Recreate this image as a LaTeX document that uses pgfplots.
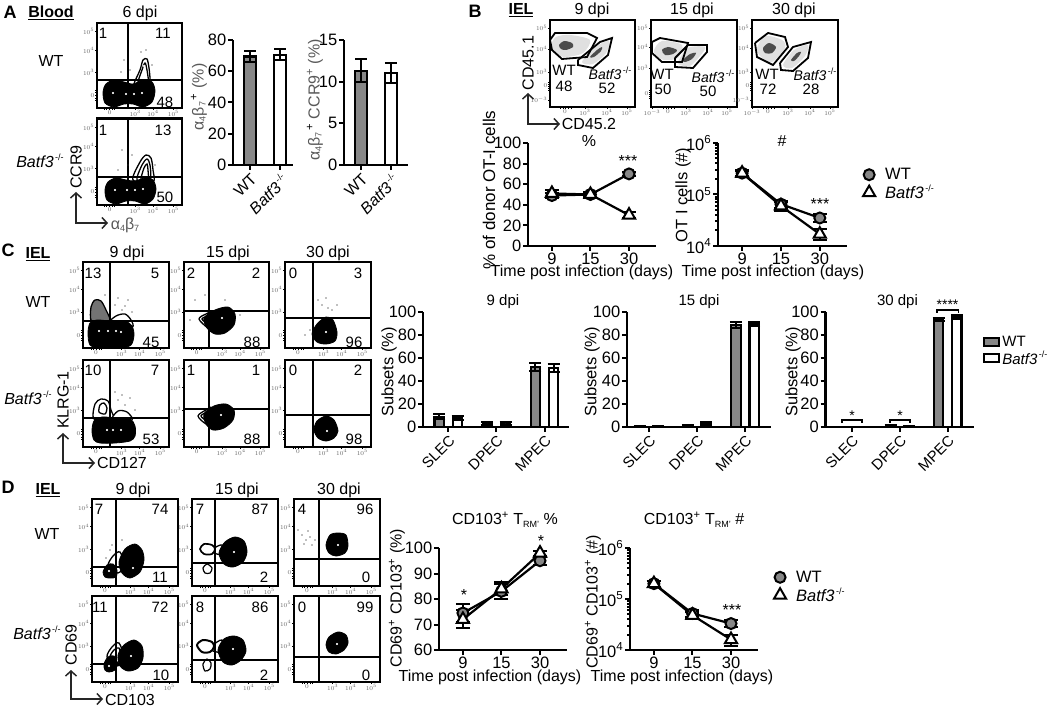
\documentclass[border=0pt]{standalone}
\usepackage{fontspec}
\setmainfont{Liberation Sans}
\usepackage{pgfplots}
\pgfplotsset{compat=1.18}
\usetikzlibrary{arrows.meta}

\newcommand\fs[1]{\fontsize{#1}{#1}\selectfont}
\newcommand\KO{\textit{Batf3}\raisebox{.42em}{\fs{9}\,-/-}}
\newcommand\ab{{\color{black!65}α\raisebox{-2pt}{\fs{9}4}β\raisebox{-2pt}{\fs{9}7}}}

\definecolor{wtgray}{gray}{0.53}

\pgfplotsset{
  % flow cytometry panels: axis units are reference pixels
  flow/.style={x=1pt,y=1pt,y dir=reverse,anchor=north west,axis on top,
    axis line style={line width=2.1pt},
    tick style={black,line width=.7pt},major tick length=2pt,minor tick length=2pt,tick align=outside,
    xtick pos=bottom,ytick pos=left,
    ticklabel style={font=\fs{6},text=black!60,inner sep=.5pt},
    xticklabels={$0$,$10^3$,$10^4$,$10^5$},
    yticklabels={$10^5$,$10^4$,$10^3$,$0$}},
  blob/.style={smooth cycle,fill=black,draw=black,line width=.8pt},
  ring/.style={smooth cycle,fill=white,draw=black,line width=1.3pt},
  gring/.style={smooth cycle,fill=black!55,draw=black,line width=1.3pt},
  dots/.style={only marks,mark=*,mark size=.9pt,white,mark options={draw=none,fill=white}},
  specks/.style={only marks,mark=*,mark size=.3pt,mark options={draw=none,fill=black!25}},
  gate/.style={black,line width=1.9pt},
  gatepoly/.style={sharp plot,draw=black,line width=1.8pt},
  cloud/.style={smooth cycle,draw=none,fill=black!12},
  cloudm/.style={smooth cycle,draw=none,fill=black!70},
  % GraphPad style bar and line panels
  gp/.style={scale only axis,anchor=south west,clip=false,
    axis x line*=bottom,axis y line*=left,
    axis line style={line width=2.2pt},
    tick style={black,line width=2pt},major tick length=5pt,tick align=outside,
    ticklabel style={font=\fs{16.5},inner sep=1.5pt},
    /pgf/number format/assume math mode=true},
  errs/.style={error bars/y dir=both,error bars/y explicit,
    error bars/error bar style={line width=2pt,draw=black},
    error bars/error mark options={rotate=90,mark size=#1,line width=2pt,draw=black}},
  errs/.default=4.5pt,
  barwt/.style={ybar,bar width=#1,bar shift=0pt,draw=black,fill=wtgray,line width=2.2pt,errs=6pt},
  barko/.style={ybar,bar width=#1,bar shift=0pt,draw=black,fill=white,line width=2.2pt,errs=6pt},
  linewt/.style={black,line width=2.2pt,mark=*,mark size=5.5pt,
    mark options={fill=wtgray,draw=black,line width=2pt,solid}},
  lineko/.style={black,line width=2.2pt,mark=triangle*,mark size=7pt,
    mark options={fill=white,draw=black,line width=2pt,solid}},
  errtop/.style={draw=none,mark=none,forget plot,errs=7pt},
  timeaxis/.style={xmin=-.62,xmax=2.7,xtick={0,1,2},xticklabels={9,15,30}},
  loglims/.style={ymin=1e4,ymax=1e6,
    ytick={1e4,1e5,1e6},yticklabels={10\textsuperscript{4},10\textsuperscript{5},10\textsuperscript{6}},
    minor ytick={2e4,3e4,4e4,5e4,6e4,7e4,8e4,9e4,2e5,3e5,4e5,5e5,6e5,7e5,8e5,9e5},
    minor tick length=3pt,
    legend image post style={only marks},
    legend cell align=left,
    legend style={draw=none,fill=none,font=\fs{16.5},row sep=0pt,column sep=8pt}},
  subsets/.style={ymin=0,ymax=100,ytick={0,20,...,100},xtick={0,1,2},
    xticklabels={SLEC,DPEC,MPEC},
    xticklabel style={rotate=45,anchor=north east,font=\fs{15}}},
}

% \flow[opts]{x0}{x1}{y0}{y1}{body}
\newcommand\flow[6][]{%
  \pgfmathsetmacro\xa{#2+.15*(#3-#2)}\pgfmathsetmacro\xb{#2+.45*(#3-#2)}%
  \pgfmathsetmacro\xc{#2+.66*(#3-#2)}\pgfmathsetmacro\xd{#2+.90*(#3-#2)}%
  \pgfmathsetmacro\ya{#5-.15*(#5-#4)}\pgfmathsetmacro\yb{#5-.42*(#5-#4)}%
  \pgfmathsetmacro\yc{#5-.68*(#5-#4)}\pgfmathsetmacro\yd{#5-.90*(#5-#4)}%
  \pgfmathsetmacro\xl{\xa-5}\pgfmathsetmacro\xm{\xa-3}\pgfmathsetmacro\xn{\xa+3}\pgfmathsetmacro\xo{\xa+5}%
  \pgfmathsetmacro\yl{\ya-5}\pgfmathsetmacro\ym{\ya-3}\pgfmathsetmacro\yn{\ya+3}\pgfmathsetmacro\yo{\ya+5}%
  \begin{axis}[flow,at={(#2pt,-#4pt)},xmin=#2,xmax=#3,ymin=#4,ymax=#5,
    xtick/.expanded={\xa,\xb,\xc,\xd},ytick/.expanded={\yd,\yc,\yb,\ya},
    minor xtick/.expanded={\xl,\xm,\xn,\xo},minor ytick/.expanded={\yl,\ym,\yn,\yo},#1]
  #6
  \end{axis}}
\newcommand\gates[2]{%
  \addplot[gate] coordinates {(#1,0) (#1,800)};
  \addplot[gate] coordinates {(0,#2) (1000,#2)};}
\newcommand\n[3]{\node[font=\fs{15}] at (#1,#2) {#3};}
\newcommand\T[4][]{\node[font=\fs{16},inner sep=0pt,#1] at (#2pt,-#3pt) {#4};}
\newcommand\Arr[4]{\draw[line width=1.5pt,black!85,{Straight Barb[length=5pt,width=11pt]}-{Straight Barb[length=5pt,width=11pt]}]
  (#1pt,-#4pt) -- (#1pt,-#2pt) -- (#3pt,-#2pt);}

\begin{document}
\begin{tikzpicture}
\path[use as bounding box] (0,0) rectangle (1050pt,-708pt);

%%% A
\flow{97}{182}{23}{108}{
  \addplot[ring] coordinates {(134,84)(140,70)(143,60)(147,59)(149,68)(150,80)(148,86)(138,86)};
  \addplot[ring] coordinates {(138,84)(142,70)(145,63)(147,70)(148,84)};
  \addplot[specks] coordinates {(124,60)(130,70)(141,52)(146,50)(121,72)(152,65)};
  \addplot[blob] coordinates {(103,92)(106,84)(114,80)(124,82)(133,84)(143,80)(152,82)(155,91)(152,102)(143,107)(133,104)(124,104)(114,107)(105,103)};
  \addplot[dots] coordinates {(113,93)(126,94)(134,94)(142,93)(144,66)};
  \gates{127.7}{80}
  \n{103}{33}{1} \n{163}{33}{11} \n{165}{102}{48}
}
\flow{97}{182}{118.5}{205}{
  \addplot[ring] coordinates {(133,180)(140,162)(146,155)(151,158)(153,170)(153,182)};
  \addplot[ring] coordinates {(137,180)(142,165)(147,159)(150,165)(150,180)};
  \addplot[ring] coordinates {(141,180)(144,168)(147,164)(148,170)(148,180)};
  \addplot[specks] coordinates {(122,150)(128,165)(118,170)(155,165)(132,155)};
  \addplot[blob] coordinates {(105,190)(108,182)(116,178)(126,180)(135,181)(145,178)(153,180)(156,189)(153,199)(145,204)(135,201)(126,201)(116,204)(107,200)};
  \addplot[dots] coordinates {(115,190)(127,190)(135,190)(143,189)};
  \gates{127.7}{177}
  \n{103}{130}{1} \n{163}{130}{13} \n{165}{197}{50}
}
\begin{axis}[gp,at={(233pt,-165pt)},width=60pt,height=125pt,xmin=-.57,xmax=1.43,
  ymin=0,ymax=80,ytick={0,20,40,60,80},xtick={0,1},xticklabels={WT,\KO},
  xticklabel style={rotate=45,anchor=north east,font=\fs{16}}]
\addplot[barwt=12pt] coordinates {(0,69.5) +- (0,3.5)};
\addplot[barko=12pt] coordinates {(1,70.5) +- (0,3.5)};
\end{axis}
\begin{axis}[gp,at={(344pt,-165pt)},width=64pt,height=125pt,xmin=-.57,xmax=1.57,
  ymin=0,ymax=15,ytick={0,5,10,15},xtick={0,1},xticklabels={WT,\KO},
  xticklabel style={rotate=45,anchor=north east,font=\fs{16}}]
\addplot[barwt=12pt] coordinates {(0,11.3) +- (0,1.4)};
\addplot[barko=12pt] coordinates {(1,11) +- (0,1.2)};
\end{axis}
\T{10}{12}{\bfseries\fs{18}A}
\T{51}{13}{\bfseries\underline{Blood}}
\T{140}{13}{6 dpi}
\T{51}{61}{WT}
\T{40}{161}{\KO}
\T[rotate=90]{76}{167}{CCR9}
\Arr{76}{223}{108}{192}
\T{125}{225}{\ab}
\T[rotate=90]{199}{97}{\ab\textsuperscript{\,+} {\color{black!65}(\%)}}
\T[rotate=90]{315}{100}{\ab\textsuperscript{\,+} {\color{black!65}CCR9\textsuperscript{+} (\%)}}

%%% B
\flow[xtick={565,585,607,627},minor xtick={560,563,568,571},minor ytick={82,84,88,90},ytick={28,49,72,86,100},yticklabels={$10^5$,$10^4$,$10^3$,$0$,$10^{-3}$}]{550}{635}{20}{107}{
  \addplot[cloud] coordinates {(551,46)(556,37)(570,35)(590,40)(583,53)(566,57)(555,54)};
  \addplot[cloudm] coordinates {(559,45)(564,41)(572,43)(573,47)(566,50)(561,49)};
  \addplot[cloud] coordinates {(582,62)(595,47)(609,41)(606,53)(593,64)};
  \addplot[cloudm] coordinates {(590,57)(597,50)(602,47)(601,51)(594,57)};
  \addplot[gatepoly] coordinates {(550,40)(555,33)(587,33)(597,38)(587,57)(562,59)(552,50)(550,40)};
  \addplot[gatepoly] coordinates {(578,60)(600,42)(612,38)(608,55)(593,68)(578,65)(578,60)};
  \n{564}{70}{WT} \n{564}{86}{48} \node[font=\fs{14}] at (610,73) {\KO}; \n{607}{88}{52}
}
\flow[xtick={652,668,686,708,727},xticklabels={$10^{-3}$,$0$,$10^3$,$10^4$,$10^5$},minor xtick={663,666,671,674},minor ytick={90,92,96,98},ytick={28,47,68,94},yticklabels={$10^5$,$10^4$,$10^3$,$0$}]{651}{737}{20}{107}{
  \addplot[cloud] coordinates {(654,50)(662,41)(682,45)(678,58)(664,60)(656,55)};
  \addplot[cloudm] coordinates {(662,50)(668,47)(677,50)(673,54)(665,55)};
  \addplot[cloud] coordinates {(678,63)(688,48)(705,47)(700,56)(690,66)};
  \addplot[cloudm] coordinates {(683,60)(690,54)(696,53)(692,59)(685,62)};
  \addplot[gatepoly] coordinates {(652,42)(660,38)(688,43)(682,62)(662,62)(652,53)(652,42)};
  \addplot[gatepoly] coordinates {(675,58)(688,45)(707,45)(707,52)(693,68)(675,67)(675,58)};
  \n{662}{74}{WT} \n{663}{89}{50} \node[font=\fs{14}] at (713,76) {\KO}; \n{708}{91}{50}
}
\flow[xtick={752,768,788,810,830},xticklabels={$10^{-3}$,$0$,$10^3$,$10^4$,$10^5$},minor xtick={763,766,771,774},minor ytick={82,84,88,90},ytick={28,48,72,86,100},yticklabels={$10^5$,$10^4$,$10^3$,$0$,$10^{-3}$}]{752}{838}{20}{107}{
  \addplot[cloud] coordinates {(757,48)(765,36)(782,40)(785,48)(772,62)(760,56)};
  \addplot[cloudm] coordinates {(763,48)(769,43)(776,47)(772,53)(765,53)};
  \addplot[cloud] coordinates {(783,65)(794,50)(808,45)(805,56)(792,68)};
  \addplot[cloudm] coordinates {(791,60)(797,53)(801,52)(799,56)(794,61)};
  \addplot[gatepoly] coordinates {(755,43)(768,33)(785,37)(788,47)(773,65)(757,57)(755,43)};
  \addplot[gatepoly] coordinates {(780,63)(793,47)(811,42)(808,58)(793,71)(781,70)(780,63)};
  \n{767}{74}{WT} \n{768}{89}{72} \node[font=\fs{14}] at (815,74) {\KO}; \n{811}{89}{28}
}
\begin{axis}[gp,timeaxis,at={(528pt,-246pt)},width=128pt,height=103pt,
  ymin=0,ymax=100,ytick={0,20,...,100}]
\addplot[linewt] coordinates {(0,49) (1,50) (2,70)};
\addplot[errtop] coordinates {(0,49) +- (0,2) (1,50) +- (0,2) (2,70) +- (0,2)};
\addplot[lineko] coordinates {(0,51) (1,50) (2,30)};
\addplot[errtop] coordinates {(0,51) +- (0,3) (1,50) +- (0,2) (2,30) +- (0,3)};
\end{axis}
\begin{axis}[gp,timeaxis,ymode=log,log basis y=10,loglims,at={(718pt,-246pt)},width=129pt,height=103pt,
  legend style={at={(1.10,.60)},anchor=west}]
\addplot[linewt] coordinates {(0,2.6e5) (1,6.5e4) (2,3.5e4)};
\addplot[errtop] coordinates {(0,2.6e5) +- (0,4e4) (1,6.5e4) +- (0,1e4) (2,3.5e4) +- (0,6e3)};
\addplot[lineko] coordinates {(0,2.6e5) (1,6e4) (2,1.7e4)};
\addplot[errtop] coordinates {(0,2.6e5) +- (0,3e4) (1,6e4) +- (0,1.2e4) (2,1.7e4) +- (0,4e3)};
\legend{WT,\KO}
\end{axis}
\T{475}{11}{\bfseries\fs{18}B}
\T{521}{10}{\bfseries\underline{IEL}}
\T{592}{10}{9 dpi}
\T{692}{10}{15 dpi}
\T{794}{10}{30 dpi}
\T[rotate=90]{528}{63}{CD45.1}
\Arr{528}{124}{560}{93}
\T{589}{124}{CD45.2}
\T{589}{141}{\%}
\T{782}{141}{\#}
\T[rotate=90]{489}{190}{\fs{17}\% of donor OT-I cells}
\T[rotate=90]{683}{195}{\fs{16.5}OT I cells (\#)}
\T{582}{272}{Time post infection (days)}
\T{773}{272}{Time post infection (days)}
\T{628}{161}{***}
\T{820}{204}{***}

%%% C
\flow{83}{169}{262}{348}{
  \addplot[specks] coordinates {(115,305)(122,310)(128,300)(118,298)(132,312)(105,295)(125,306)};
  \addplot[gring] coordinates {(92,322)(91,307)(95,300)(101,301)(106,310)(110,322)};
  \addplot[ring] coordinates {(110,323)(116,316)(125,314)(131,320)(132,327)};
  \addplot[blob] coordinates {(88,333)(90,323)(97,320)(110,321)(125,321)(132,326)(134,335)(131,345)(120,348)(100,348)(90,345)};
  \addplot[dots] coordinates {(99,331)(108,331)(116,331)(121,332)};
  \gates{110}{321}
  \n{93}{273}{13} \n{155}{273}{5} \n{151}{342}{45}
}
\flow{83}{169}{360}{447}{
  \addplot[specks] coordinates {(118,400)(125,405)(130,398)(115,392)(135,410)(122,395)};
  \addplot[ring] coordinates {(94,419)(95,404)(101,399)(108,401)(111,410)(113,419)};
  \addplot[ring] coordinates {(99,412)(100,405)(104,403)(107,408)(105,414)};
  \addplot[ring] coordinates {(112,420)(118,411)(127,412)(132,420)};
  \addplot[blob] coordinates {(92,431)(94,421)(102,417)(115,418)(130,419)(135,426)(135,436)(130,441)(115,443)(100,443)(94,440)};
  \addplot[dots] coordinates {(107,430)(113,430)(121,430)};
  \gates{110}{418}
  \n{93}{370}{10} \n{155}{370}{7} \n{151}{439}{53}
}
\flow{184}{269}{262}{348}{
  \addplot[specks] coordinates {(195,300)(205,295)(190,320)(225,300)(240,315)};
  \addplot[ring] coordinates {(199,319)(206,314)(214,312)(216,330)(208,328)};
  \addplot[ring] coordinates {(202,319)(208,316)(214,315)(216,328)(209,325)};
  \addplot[blob] coordinates {(204,318)(215,310)(228,307)(235,314)(234,325)(225,333)(215,334)(207,328)};
  \addplot[dots] coordinates {(222,318)};
  \gates{209}{311}
  \n{191}{273}{2} \n{256}{273}{2} \n{252}{342}{88}
}
\flow{184}{269}{360}{447}{
  \addplot[ring] coordinates {(198,416)(206,410)(212,408)(215,426)(206,424)};
  \addplot[ring] coordinates {(201,416)(207,412)(212,411)(215,424)(207,421)};
  \addplot[blob] coordinates {(204,414)(214,406)(226,404)(234,410)(233,420)(224,428)(213,430)(206,424)};
  \addplot[dots] coordinates {(221,415)};
  \gates{209}{409}
  \n{191}{370}{1} \n{256}{370}{1} \n{252}{439}{88}
}
\flow{285}{371}{262}{348}{
  \addplot[specks] coordinates {(322,305)(328,308)(318,300)(332,310)(326,298)(305,335)(310,330)(337,305)};
  \addplot[blob] coordinates {(312,334)(317,324)(326,317)(333,320)(337,332)(335,341)(326,344)(317,342)};
  \addplot[dots] coordinates {(326,332)};
  \gates{313}{318}
  \n{293}{273}{0} \n{358}{273}{3} \n{354}{342}{96}
}
\flow{285}{371}{360}{447}{
  \addplot[blob] coordinates {(314,430)(317,421)(326,416)(334,420)(338,431)(334,438)(326,441)(318,438)};
  \addplot[dots] coordinates {(327,431)};
  \gates{313}{415}
  \n{293}{370}{0} \n{358}{370}{2} \n{354}{439}{98}
}
% bars stand at group position -/+ 0.19 (9 px of 48 px group spacing)
\begin{axis}[gp,subsets,at={(423pt,-427pt)},width=146pt,height=115pt,xmin=-.53,xmax=2.51]
\addplot[barwt=9.5pt] coordinates {(-.19,9) +- (0,2) (.81,3) +- (0,1) (1.81,52.5) +- (0,3.5)};
\addplot[barko=9.5pt] coordinates {(.19,8) +- (0,2) (1.19,3) +- (0,1) (2.19,51) +- (0,3.5)};
\end{axis}
\begin{axis}[gp,subsets,at={(627pt,-427pt)},width=144pt,height=115pt,xmin=-.46,xmax=2.54]
\addplot[barwt=9.5pt] coordinates {(-.19,1) +- (0,.3) (.81,1) +- (0,.5) (1.81,88.5) +- (0,2.5)};
\addplot[barko=9.5pt] coordinates {(.19,.5) +- (0,.2) (1.19,2.5) +- (0,1.5) (2.19,89.5) +- (0,2)};
\end{axis}
\begin{axis}[gp,subsets,at={(825.5pt,-427pt)},width=148.5pt,height=115pt,xmin=-.55,xmax=2.55,
  legend style={at={(1.04,.66)},anchor=west,draw=none,fill=none,font=\fs{15},row sep=-1pt},
  legend cell align=left,
  legend image code/.code={\draw[#1,bar width=0pt] (0,-.38em) rectangle (15pt,.48em);}]
\addplot[barwt=9.5pt] coordinates {(-.19,.3) +- (0,.1) (.81,1) +- (0,.5) (1.81,93.5) +- (0,1.5)};
\addplot[barko=9.5pt] coordinates {(.19,.2) +- (0,.1) (1.19,.5) +- (0,.3) (2.19,95.5) +- (0,1.5)};
\legend{WT,\KO}
\end{axis}
\draw[line width=1.5pt] (842pt,-423pt) -- (842pt,-420pt) -- (862pt,-420pt) -- (862pt,-423pt);
\draw[line width=1.5pt] (890pt,-423pt) -- (890pt,-420pt) -- (910pt,-420pt) -- (910pt,-423pt);
\draw[line width=1.5pt] (937pt,-313pt) -- (937pt,-310pt) -- (958.5pt,-310pt) -- (958.5pt,-313pt);
\T{852}{416}{\fs{14}*}
\T{900}{416}{\fs{14}*}
\T{947.5}{305}{\fs{14}****}
\T{503}{302}{\fs{15}9 dpi}
\T{699}{302}{\fs{15}15 dpi}
\T{897.5}{302}{\fs{15}30 dpi}
\T[rotate=90]{389}{372}{\fs{16.5}Subsets (\%)}
\T[rotate=90]{592}{372}{\fs{16.5}Subsets (\%)}
\T[rotate=90]{793}{372}{\fs{16.5}Subsets (\%)}
\T{8}{250}{\bfseries\fs{18}C}
\T{38}{254}{\bfseries\underline{IEL}}
\T{127}{253}{9 dpi}
\T{228}{253}{15 dpi}
\T{328}{253}{30 dpi}
\T{38}{302}{WT}
\T{28}{398}{\KO}
\T[rotate=90]{63}{400}{KLRG-1}
\Arr{63}{463}{95}{433}
\T{122}{463}{CD127}

%%% D
\flow{92}{178}{499}{586}{
  \addplot[specks] coordinates {(110,550)(115,555)(106,558)(122,540)(112,545)};
  \addplot[ring] coordinates {(108,566)(113,556)(120,552)(124,565)(118,573)};
  \addplot[blob] coordinates {(103,572)(107,565)(113,564)(117,570)(116,577)(110,578)(105,577)};
  \addplot[blob] coordinates {(119,562)(125,549)(135,544)(142,550)(144,560)(140,572)(130,578)(122,573)};
  \addplot[dots] coordinates {(133,568)(109,571)};
  \gates{116}{567}
  \n{99}{509}{7} \n{160}{509}{74} \n{160}{577}{11}
}
\flow{92}{178}{596}{682}{
  \addplot[ring] coordinates {(107,657)(112,647)(119,643)(124,658)(117,666)};
  \addplot[ring] coordinates {(110,657)(114,650)(119,648)(121,658)(116,663)};
  \addplot[blob] coordinates {(104,664)(108,657)(114,656)(117,663)(115,670)(109,672)(105,670)};
  \addplot[blob] coordinates {(118,655)(124,645)(134,640)(142,646)(143,658)(138,668)(128,671)(120,666)};
  \addplot[dots] coordinates {(131,656)(109,666)};
  \gates{116}{664}
  \n{100}{607}{11} \n{160}{607}{72} \n{161}{675}{10}
}
\flow{192}{278}{499}{586}{
  \addplot[ring] coordinates {(213,549)(222,545)(225,555)(214,553)};
  \addplot[ring,line width=1.7pt] coordinates {(200,549)(204,544)(212,545)(215,549)(212,554)(204,554)};
  \addplot[ring,line width=1.2pt] coordinates {(203,568)(207,564)(212,568)(210,573)(205,573)};
  \addplot[blob] coordinates {(219,553)(225,542)(235,537)(244,541)(247,552)(243,562)(233,567)(224,564)};
  \addplot[dots] coordinates {(234,552)};
  \gates{215}{563}
  \n{200}{509}{7} \n{260}{509}{87} \n{264}{577}{2}
}
\flow{192}{278}{596}{682}{
  \addplot[ring] coordinates {(212,646)(222,640)(225,652)(213,651)};
  \addplot[ring,line width=2pt] coordinates {(197,645)(203,640)(212,642)(214,647)(210,652)(202,652)};
  \addplot[ring,line width=1.2pt] coordinates {(203,664)(207,659)(211,663)(210,669)(205,671)};
  \addplot[blob] coordinates {(218,650)(224,639)(234,636)(243,640)(246,651)(241,660)(232,665)(223,662)};
  \addplot[dots] coordinates {(233,649)};
  \gates{215}{660}
  \n{200}{607}{8} \n{260}{607}{86} \n{264}{675}{2}
}
\flow{294}{380}{499}{586}{
  \addplot[specks] coordinates {(302,535)(306,540)(310,537)(304,544)(312,545)(298,530)(308,531)(315,540)};
  \addplot[blob] coordinates {(326,545)(330,535)(338,533)(346,535)(348,546)(345,553)(336,556)(329,553)};
  \addplot[dots] coordinates {(338,545)};
  \gates{319}{559}
  \n{302}{509}{4} \n{365}{509}{96} \n{366}{577}{0}
}
\flow{294}{380}{596}{682}{
  \addplot[blob] coordinates {(326,645)(329,637)(338,632)(346,635)(348,643)(344,650)(336,654)(329,652)};
  \addplot[dots] coordinates {(337,644)};
  \gates{319}{657}
  \n{302}{607}{0} \n{365}{607}{99} \n{366}{675}{0}
}
\begin{axis}[gp,timeaxis,at={(439pt,-650pt)},width=128pt,height=102pt,
  ymin=60,ymax=100,ytick={60,70,80,90,100}]
\addplot[linewt] coordinates {(0,74.5) (1,83) (2,95)};
\addplot[errtop] coordinates {(0,74.5) +- (0,3.5) (1,83) +- (0,3) (2,95) +- (0,1.5)};
\addplot[lineko] coordinates {(0,72) (1,84) (2,98)};
\addplot[errtop] coordinates {(0,72) +- (0,3.5) (1,84) +- (0,2.5) (2,98) +- (0,1)};
\end{axis}
\begin{axis}[gp,timeaxis,ymode=log,log basis y=10,loglims,at={(630pt,-650pt)},width=128pt,height=102pt,
  legend style={at={(1.10,.62)},anchor=west}]
\addplot[linewt] coordinates {(0,2e5) (1,5.2e4) (2,3.3e4)};
\addplot[errtop] coordinates {(0,2e5) +- (0,3e4) (1,5.2e4) +- (0,8e3) (2,3.3e4) +- (0,5e3)};
\addplot[lineko] coordinates {(0,2e5) (1,4.8e4) (2,1.6e4)};
\addplot[errtop] coordinates {(0,2e5) +- (0,3e4) (1,4.8e4) +- (0,8e3) (2,1.6e4) +- (0,4e3)};
\legend{WT,\KO}
\end{axis}
\T{8}{487}{\bfseries\fs{18}D}
\T{48}{490}{\bfseries\underline{IEL}}
\T{133}{490}{9 dpi}
\T{237}{490}{15 dpi}
\T{339}{490}{30 dpi}
\T{47}{534}{WT}
\T{37}{633}{\KO}
\T[rotate=90]{71}{645}{CD69}
\Arr{71}{699}{103}{670}
\T{130}{700}{CD103}
\T[rotate=90]{397}{598}{CD69\textsuperscript{+} CD103\textsuperscript{+} (\%)}
\T[rotate=90]{593}{602}{CD69\textsuperscript{+} CD103\textsuperscript{+} (\#)}
\T{490}{677}{Time post infection (days)}
\T{682}{677}{Time post infection (days)}
\T{505}{520}{CD103\textsuperscript{+} T\raisebox{-3pt}{\fs{9}RM'} \%}
\T{694}{520}{CD103\textsuperscript{+} T\raisebox{-3pt}{\fs{9}RM'} \#}
\T{464}{595}{*}
\T{541}{541}{*}
\T{732}{610}{***}
\end{tikzpicture}
\end{document}
